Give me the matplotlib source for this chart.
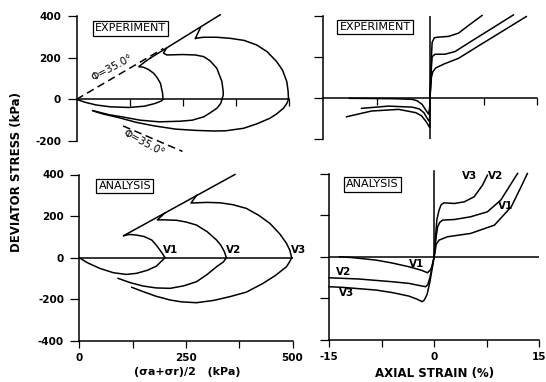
import numpy as np
import matplotlib
matplotlib.use('Agg')
import matplotlib.pyplot as plt

# stress paths, experiment: (s, q) in kPa
exp_v1_comp = np.array([(204, 0), (203, 30), (198, 77), (190, 105), (182, 125), (170, 143), (158, 154), (147, 157), (160, 178), (174, 198)])
exp_v1_ext = np.array([(204, 0), (200, -8), (185, -20), (160, -33), (124, -39), (80, -36), (46, -27), (20, -14), (0, 0)])
exp_v2_comp = np.array([(343, 0), (346, 20), (346, 37), (343, 85), (331, 149), (315, 185), (300, 205), (280, 213), (250, 215), (213, 213), (205, 222), (212, 245)])
exp_v2_ext = np.array([(343, 0), (340, -20), (331, -43), (315, -65), (300, -84), (273, -100), (245, -105), (195, -108), (150, -100), (110, -85), (77, -74), (38, -54)])
exp_v3_comp = np.array([(500, 0), (499, 40), (496, 85), (486, 140), (472, 181), (450, 228), (425, 261), (395, 283), (362, 293), (330, 298), (300, 298), (284, 294), (280, 291), (292, 343)])
exp_v3_ext = np.array([(500, 0), (496, -20), (488, -43), (472, -70), (456, -91), (425, -118), (394, -139), (352, -151), (323, -152), (280, -149), (234, -143), (182, -127), (140, -110), (100, -88), (62, -70), (40, -56)])
exp_fail = np.array([(174, 198), (339, 406)])
phi_comp = np.array([(0, 0), (205, 244)])
phi_ext = np.array([(110, -128), (250, -250)])

# stress-strain, experiment: (strain %, q kPa)
exp_c1 = np.array([(0, 0), (0.2, 100), (0.4, 127), (0.8, 145), (2, 165), (4, 192), (7, 257), (10, 321), (13.5, 396)])
exp_c2 = np.array([(0, 0), (0.2, 150), (0.3, 200), (0.7, 212), (2.1, 212), (3.5, 225), (6, 280), (9, 345), (11.7, 404)])
exp_c3 = np.array([(0, 0), (0.2, 200), (0.3, 270), (0.6, 292), (1.0, 295), (2.6, 299), (4.0, 315), (5.5, 355), (7.3, 401)])
exp_e1 = np.array([(0, 0), (-0.05, -50), (-0.2, -80), (-0.5, -65), (-1.1, -33), (-1.8, -15), (-2.5, -8), (-5, -5), (-8, -4), (-11.3, -3)])
exp_e2 = np.array([(0, 0), (-0.05, -100), (-0.14, -114), (-0.4, -100), (-0.85, -73), (-1.5, -55), (-2.5, -46), (-5.8, -41), (-9.6, -52)])
exp_e3 = np.array([(0, 0), (-0.02, -130), (-0.05, -146), (-0.3, -130), (-0.6, -114), (-1.2, -88), (-2.0, -73), (-4.4, -57), (-8.2, -65), (-11.7, -93)])

# stress paths, analysis
ana_v1_comp = np.array([(201, 0), (195, 20), (189, 37), (180, 62), (170, 85), (152, 102), (134, 109), (118, 112), (104, 106)])
ana_v1_ext = np.array([(201, 0), (195, -12), (181, -40), (160, -60), (134, -75), (110, -80), (80, -72), (48, -51), (20, -25), (0, 0)])
ana_v2_comp = np.array([(345, 0), (340, 30), (332, 60), (322, 85), (300, 125), (275, 157), (250, 172), (228, 180), (200, 182), (183, 182), (200, 214)])
ana_v2_ext = np.array([(345, 0), (338, -20), (322, -43), (300, -80), (275, -115), (245, -135), (213, -147), (180, -145), (150, -136), (120, -120), (91, -99)])
ana_v3_comp = np.array([(498, 0), (494, 35), (486, 69), (470, 115), (447, 165), (420, 205), (392, 237), (360, 255), (330, 264), (300, 266), (275, 264), (262, 263), (275, 300)])
ana_v3_ext = np.array([(498, 0), (493, -20), (486, -43), (460, -85), (431, -123), (392, -165), (353, -187), (315, -205), (275, -216), (240, -212), (213, -203), (180, -185), (150, -163), (123, -142)])
ana_fail = np.array([(104, 106), (365, 400)])

# stress-strain, analysis
ana_c1 = np.array([(0, 0), (0.3, 60), (0.7, 80), (1.9, 96), (5.2, 112), (8.6, 152), (11, 240), (12.4, 336), (13.3, 400)])
ana_c2 = np.array([(0, 0), (0.3, 100), (0.5, 144), (0.8, 165), (1.2, 176), (2.9, 179), (5.2, 192), (7.6, 216), (9.5, 272), (11, 352), (11.9, 400)])
ana_c3 = np.array([(0, 0), (0.2, 100), (0.4, 180), (0.7, 224), (1.0, 250), (1.4, 259), (2.9, 256), (4.3, 264), (5.7, 288), (6.9, 344), (7.6, 392)])
ana_e1 = np.array([(0, 0), (-0.2, -30), (-0.45, -60), (-0.95, -77), (-1.8, -65), (-3.6, -48), (-6, -30), (-8.3, -16), (-11.7, -4), (-13.5, 0)])
ana_e2 = np.array([(0, 0), (-0.3, -50), (-0.6, -100), (-0.9, -133), (-1.2, -144), (-1.7, -141), (-3.6, -128), (-6, -120), (-10.7, -107), (-15, -101)])
ana_e3 = np.array([(0, 0), (-0.3, -60), (-0.6, -120), (-1.0, -180), (-1.4, -208), (-1.7, -216), (-2.5, -203), (-3.6, -189), (-6, -172), (-8.3, -160), (-13.1, -147), (-15, -144)])

p_ticks = [0, 125, 250, 375, 500]
p_labels = ['0', '', '250', '', '500']
e_ticks = [-15, -7.5, 0, 7.5, 15]
e_labels = ['-15', '', '0', '', '15']
q_ticks_top = [-200, 0, 200, 400]
q_labels_top = ['-200', '0', '200', '400']
q_ticks_bot = [-400, -200, 0, 200, 400]
q_labels_bot = ['-400', '-200', '0', '200', '400']

plt.rcParams['font.family'] = ['DejaVu Sans']
plt.rcParams['font.weight'] = 'bold'
plt.rcParams['font.size'] = 7.5

W, H = 546, 382
fig = plt.figure(figsize=(W / 100, H / 100), dpi=100)

def px_axes(x0, x1, y0, y1):
    return fig.add_axes([x0 / W, 1 - y1 / H, (x1 - x0) / W, (y1 - y0) / H])

lw = 1.1
k = 'black'

def style(ax, zero_spine):
    for s in ['top', 'right']:
        ax.spines[s].set_visible(False)
    for s in ['left', 'bottom']:
        ax.spines[s].set_linewidth(lw)
    if zero_spine:
        ax.spines['bottom'].set_position(('data', 0))
    ax.tick_params(axis='y', length=6.5, width=0.9, pad=4.5)
    ax.tick_params(axis='x', length=5, width=0.9, pad=3.5)
    ax.patch.set_alpha(0)

def line(ax, pts, **kw):
    ax.plot(pts[:, 0], pts[:, 1], color=k, lw=lw, clip_on=False, **kw)

def box(ax, x, y, s):
    ax.text(x, y, s, ha='center', va='center', fontsize=8, fontweight='normal',
            bbox=dict(boxstyle='square,pad=0.2', fc='white', ec=k, lw=0.9))

# top left
ax1 = px_axes(76.5, 288.5, 16, 141)
ax1.set_xlim(0, 500)
ax1.set_ylim(-200, 400)
style(ax1, True)
ax1.set_xticks([125, 250, 375, 500])
ax1.set_xticklabels([])
ax1.set_yticks(q_ticks_top)
ax1.set_yticklabels(q_labels_top)
for p in [exp_v1_comp, exp_v1_ext, exp_v2_comp, exp_v2_ext, exp_v3_comp, exp_v3_ext, exp_fail]:
    line(ax1, p)
line(ax1, phi_comp, ls=(0, (5, 3)))
line(ax1, phi_ext, ls=(0, (5, 3)))
ax1.text(83, 152, 'Φ=35.0°', rotation=28, ha='center', va='center', fontweight='normal')
ax1.text(158, -212, 'Φ=35.0°', rotation=-28, ha='center', va='center', fontweight='normal')
box(ax1, 127, 341, 'EXPERIMENT')

# top right
ax2 = px_axes(323, 537, 15.7, 138.7)
ax2.set_xlim(-15, 15)
ax2.set_ylim(-200, 400)
style(ax2, True)
ax2.set_xticks([-7.5, 7.5, 15])
ax2.set_xticklabels([])
ax2.set_yticks(q_ticks_top)
ax2.set_yticklabels([])
ax2.plot([0, 0], [-200, 400], color=k, lw=lw)
for p in [exp_c1, exp_c2, exp_c3, exp_e1, exp_e2, exp_e3]:
    line(ax2, p)
box(ax2, -7.7, 346, 'EXPERIMENT')

# bottom left
ax3 = px_axes(79.3, 292.5, 174.5, 341)
ax3.set_xlim(0, 500)
ax3.set_ylim(-400, 400)
style(ax3, False)
ax3.set_xticks(p_ticks)
ax3.set_xticklabels(p_labels)
ax3.set_yticks(q_ticks_bot)
ax3.set_yticklabels(q_labels_bot)
ax3.plot([0, 500], [0, 0], color=k, lw=lw)
for p in [ana_v1_comp, ana_v1_ext, ana_v2_comp, ana_v2_ext, ana_v3_comp, ana_v3_ext, ana_fail]:
    line(ax3, p)
for s, lab in [(214, 'V1'), (361, 'V2'), (515, 'V3')]:
    ax3.text(s, 39, lab, ha='center', va='center', clip_on=False)
box(ax3, 107, 345, 'ANALYSIS')

# bottom right
ax4 = px_axes(329, 539.3, 173.5, 340)
ax4.set_xlim(-15, 15)
ax4.set_ylim(-400, 400)
style(ax4, False)
ax4.set_xticks(e_ticks)
ax4.set_xticklabels(e_labels)
ax4.set_yticks(q_ticks_bot)
ax4.set_yticklabels([])
ax4.plot([-15, 15], [0, 0], color=k, lw=lw)
ax4.plot([0, 0], [0, 410], color=k, lw=lw, clip_on=False)
for p in [ana_c1, ana_c2, ana_c3, ana_e1, ana_e2, ana_e3]:
    line(ax4, p)
for x, y, lab in [(5.1, 388, 'V3'), (8.8, 388, 'V2'), (10.2, 244, 'V1'),
                  (-2.5, -34, 'V1'), (-12.9, -72, 'V2'), (-12.5, -173, 'V3')]:
    ax4.text(x, y, lab, ha='center', va='center', clip_on=False)
box(ax4, -8.8, 348, 'ANALYSIS')

fig.text(17 / W, 1 - 172 / H, 'DEVIATOR STRESS (kPa)', rotation=90, ha='center', va='center', fontsize=8.5)
fig.text(187 / W, 1 - 372 / H, '(σa+σr)/2   (kPa)', ha='center', va='center', fontsize=8)
fig.text(435 / W, 1 - 373 / H, 'AXIAL STRAIN (%)', ha='center', va='center', fontsize=8.5)

fig.savefig('out.png', dpi=100)
